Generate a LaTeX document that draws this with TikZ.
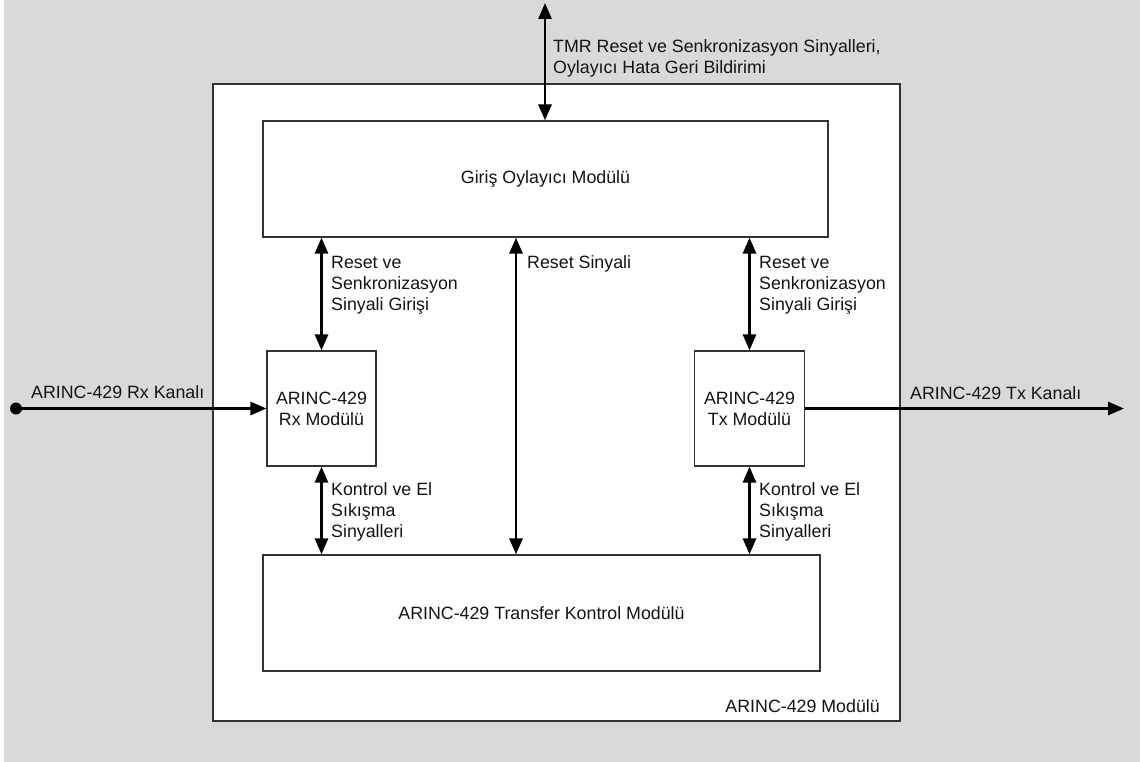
\documentclass[tikz,border=0pt]{standalone}
\usepackage{fontspec}
\setmainfont{Liberation Sans}
\usetikzlibrary{arrows.meta}
\begin{document}
\begin{tikzpicture}[x=1pt,y=-1pt,
  every node/.style={inner sep=0pt, text=black!92, font=\fontsize{17.8}{21}\selectfont},
  block/.style={draw=black!80, line width=1.2pt, fill=white, align=center},
  lbl/.style={anchor=base west, align=left},
  sig/.style={line width=2.8pt, {Triangle[length=16pt,width=13pt]}-{Triangle[length=16pt,width=13pt]}},
  flow/.style={line width=2.8pt, -{Triangle[length=16pt,width=13pt]}}
]
  % canvas
  \useasboundingbox (0,0) rectangle (1140,762);
  \fill[white] (0,0) rectangle (1140,762);
  \fill[gray!30] (4,0) rectangle (1140,762);

  % enclosing module
  \node[block, minimum width=687, minimum height=637] (mod) at (556.5,402.5) {};
  \node[anchor=base east] (modlbl) at (880,712) {ARINC-429 Modülü};

  % sub-modules
  \node[block, minimum width=565, minimum height=116] (voter) at (545.5,179) {Giriş Oylayıcı Modülü};
  \node[block, minimum width=109, minimum height=115] (rx) at (321.5,408.5) {ARINC-429\\Rx Modülü};
  \node[block, minimum width=110, minimum height=115] (tx) at (749.5,408.5) {ARINC-429\\Tx Modülü};
  \node[block, minimum width=557, minimum height=116] (xfer) at (541.5,613) {ARINC-429 Transfer Kontrol Modülü};

  % free ends
  \coordinate (top) at (545,3);
  \coordinate (mid) at (516,0);
  \coordinate (rxin) at (16,408.5);
  \coordinate (txout) at (1124,408.5);

  % connectors
  \draw[sig] (top) -- (top |- voter.north);
  \draw[sig] (rx.north) -- (rx.north |- voter.south);
  \draw[sig] (tx.north) -- (tx.north |- voter.south);
  \draw[sig] (mid |- voter.south) -- (mid |- xfer.north);
  \draw[sig] (rx.south) -- (rx.south |- xfer.north);
  \draw[sig] (tx.south) -- (tx.south |- xfer.north);
  \fill (rxin) circle (6pt);
  \draw[flow] (rxin) -- (rx.west);
  \draw[flow] (tx.east) -- (txout);

  % signal labels (base anchor sits on the last line)
  \node[lbl] (ltop) at (553,74) {TMR Reset ve Senkronizasyon Sinyalleri,\\Oylayıcı Hata Geri Bildirimi};
  \node[lbl] (lrxs) at (331,310) {Reset ve\\Senkronizasyon\\Sinyali Girişi};
  \node[lbl] (ltxs) at (759,310) {Reset ve\\Senkronizasyon\\Sinyali Girişi};
  \node[lbl] (lrst) at (527,268) {Reset Sinyali};
  \node[lbl] (lrxc) at (331,537) {Kontrol ve El\\Sıkışma\\Sinyalleri};
  \node[lbl] (ltxc) at (759,537) {Kontrol ve El\\Sıkışma\\Sinyalleri};
  \node[lbl] (lrxk) at (31,398) {ARINC-429 Rx Kanalı};
  \node[lbl] (ltxk) at (910,399) {ARINC-429 Tx Kanalı};
\end{tikzpicture}
\end{document}
